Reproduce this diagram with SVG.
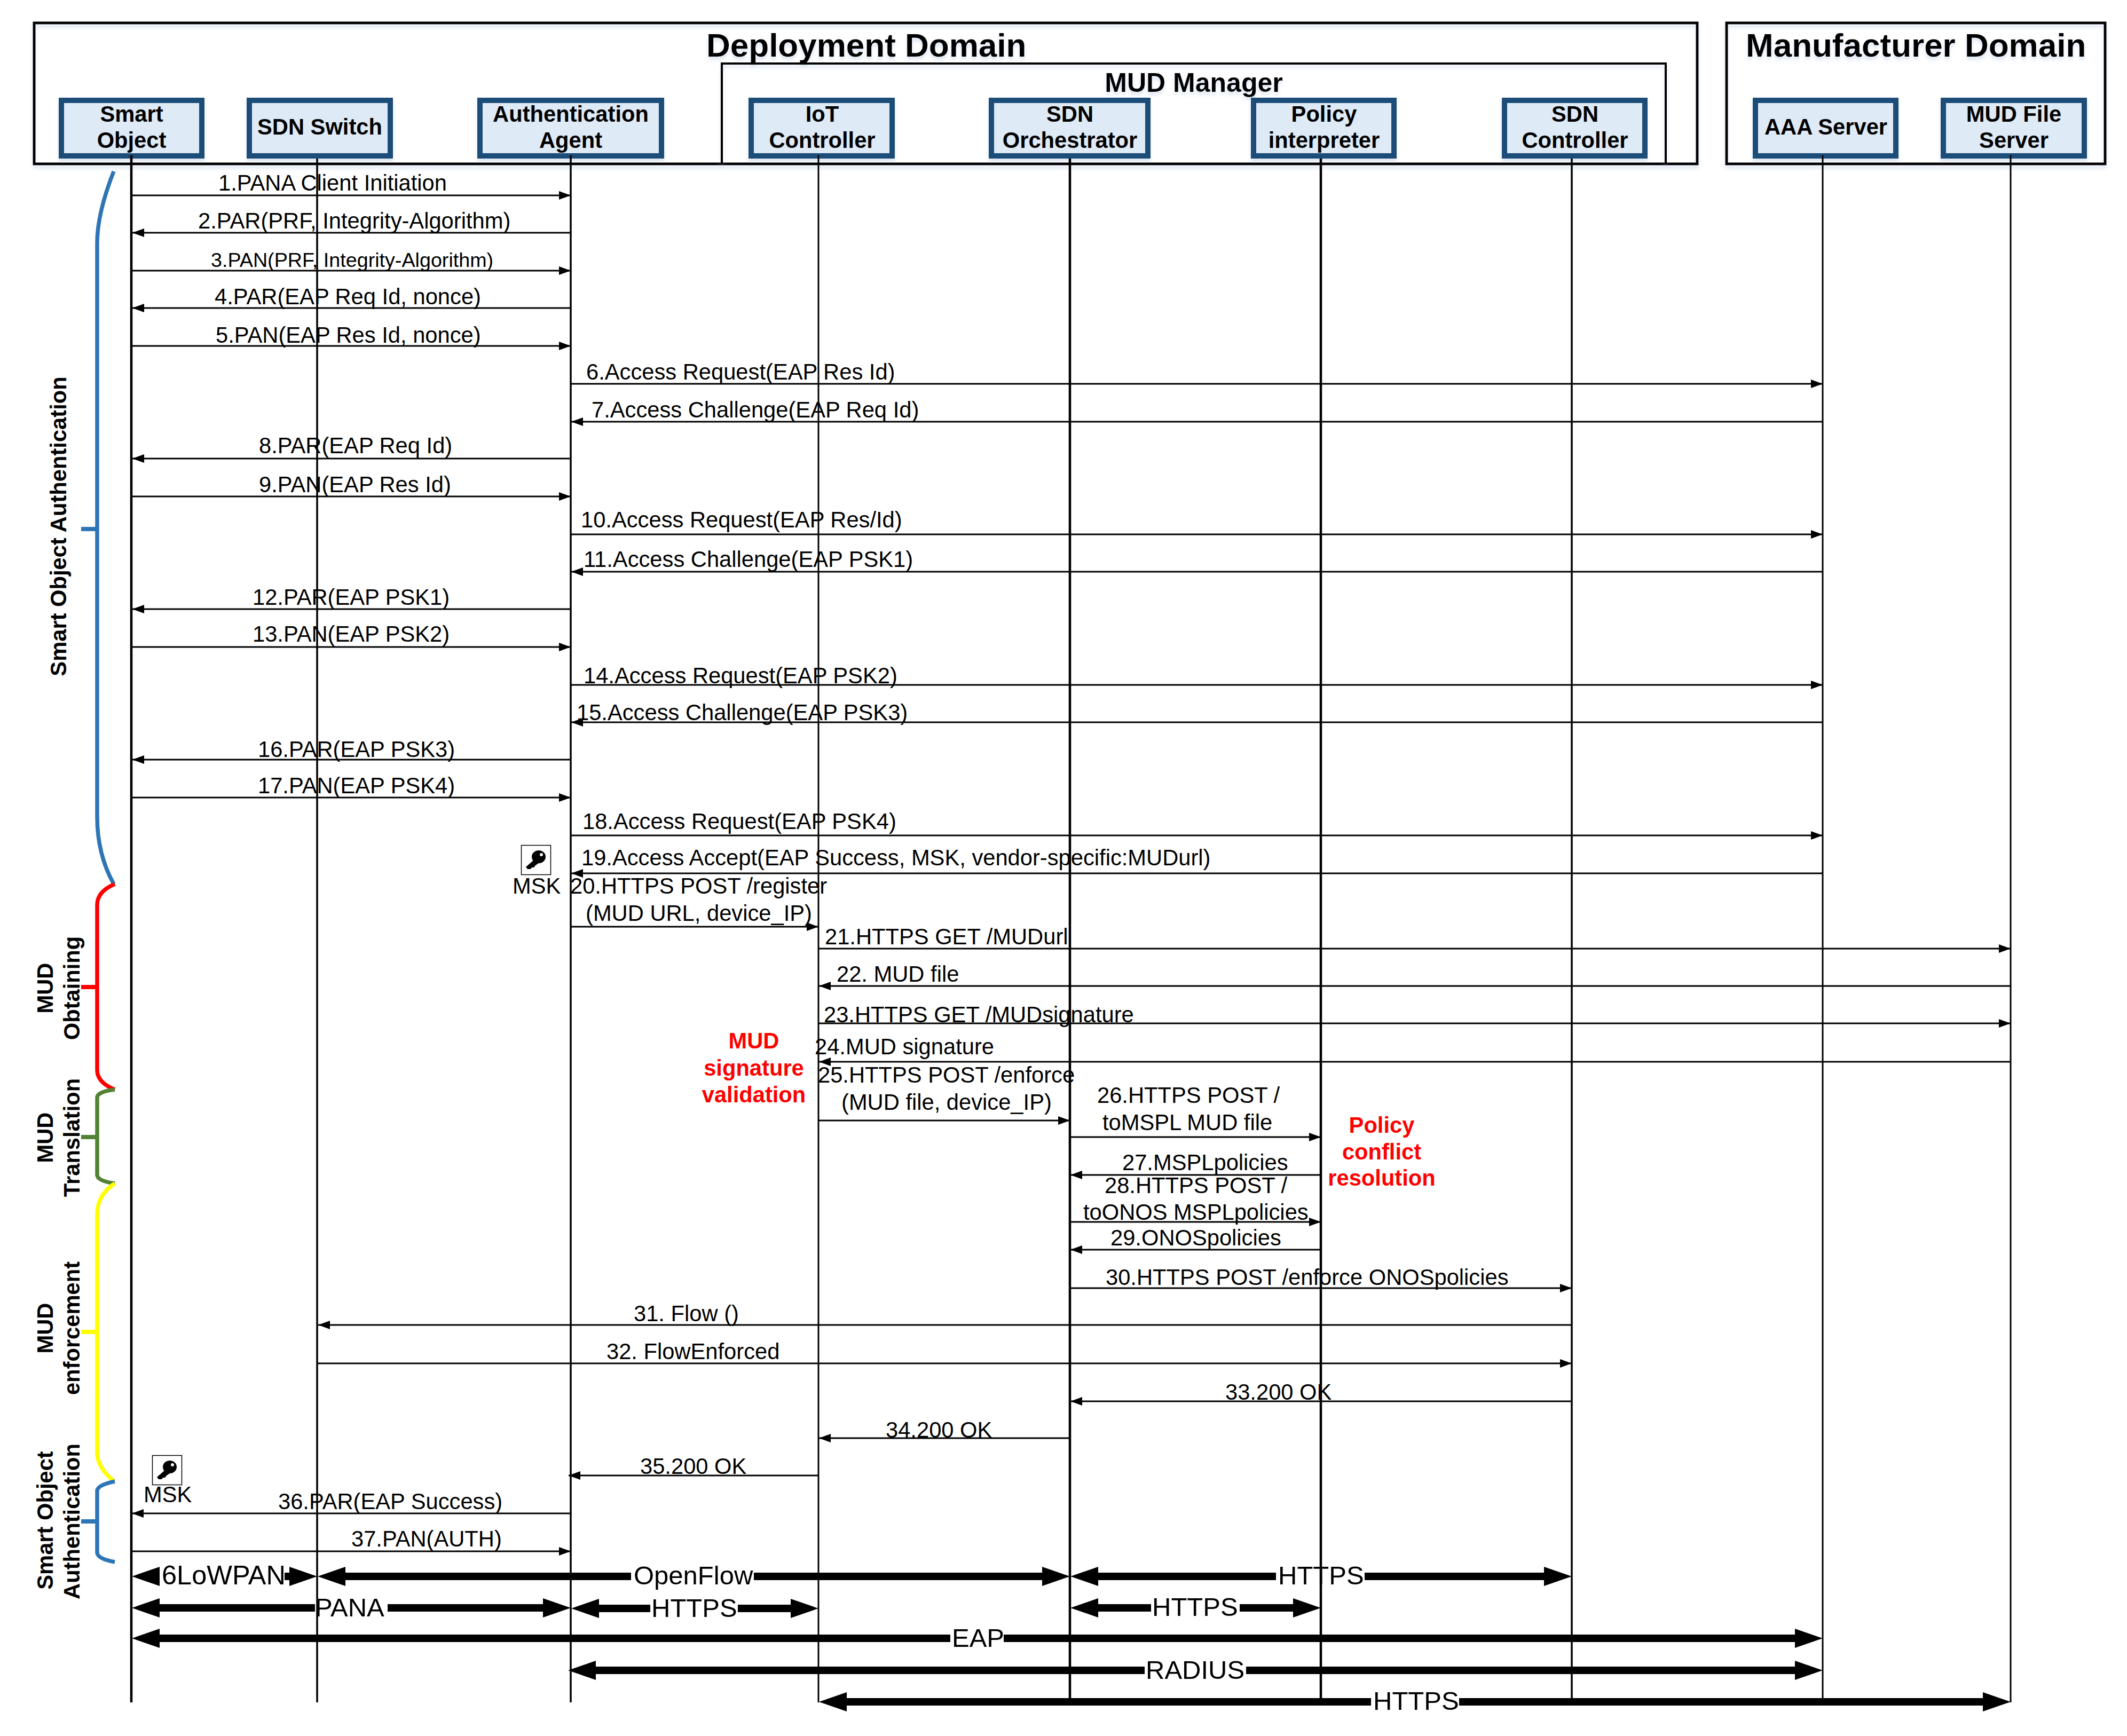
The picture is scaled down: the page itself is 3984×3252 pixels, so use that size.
<svg xmlns="http://www.w3.org/2000/svg" width="3984" height="3252" viewBox="0 0 3984 3252">
<style>
text{font-family:"Liberation Sans",Arial,sans-serif;fill:#000}
.dom{fill:none;stroke:#000;stroke-width:5;filter:url(#sh)}
.mgr{fill:none;stroke:#000;stroke-width:4;filter:url(#sh)}
.box{fill:#deeaf6;stroke:#1f4e79;stroke-width:10;filter:url(#sh)}
.nt{font-size:41.7px;font-weight:bold;text-anchor:middle}
.title{font-size:62px;font-weight:bold;filter:url(#sh)}
.mgrt{font-size:50px;font-weight:bold;text-anchor:middle;filter:url(#sh)}
.life{stroke:#000;fill:none}
.msg{stroke:#000;stroke-width:3;fill:none}
.r{marker-end:url(#a)}
.thick{stroke:#000;stroke-width:14;fill:none;marker-end:url(#b)}
.plain{stroke:#000;stroke-width:14;fill:none}
.m{font-size:41.7px}
.s{font-size:37.7px}
.t{font-size:49px}
.red{font-size:41.7px;font-weight:bold;fill:#ff0000;text-anchor:middle}
.gl{font-size:41.7px;font-weight:bold;text-anchor:middle}
.br{fill:none;stroke-width:7.5}
.tick{fill:none;stroke-width:8}
</style>
<defs>
<filter id="sh" x="-5%" y="-5%" width="110%" height="115%"><feDropShadow dx="0" dy="6" stdDeviation="3" flood-color="#9db7d9" flood-opacity="0.35"/></filter>
<marker id="a" markerUnits="userSpaceOnUse" markerWidth="24" markerHeight="18" refX="22" refY="8" orient="auto"><path d="M0,0L22,8L0,16z" fill="#000"/></marker>
<marker id="b" markerUnits="userSpaceOnUse" markerWidth="54" markerHeight="38" refX="1" refY="18" orient="auto"><path d="M0,0L52,18L0,36z" fill="#000"/></marker>
<g id="key">
<rect x="0.5" y="0.5" width="55" height="55" fill="#fff" stroke="#000" stroke-width="1.5"/>
<ellipse cx="33" cy="22" rx="13" ry="12" fill="#000"/>
<path d="M25,27L9,41L12,45L18,45L20,42L24,42L27,38L36,32Z" fill="#000"/>
<circle cx="38" cy="18" r="3" fill="#fff"/>
</g>
</defs>
<rect width="3984" height="3252" fill="#fff"/>

<g id="deployment-domain">
<rect class="dom" x="64" y="43" width="3115" height="264"/>
<text class="title" x="1323" y="106">Deployment Domain</text>
</g>
<g id="manufacturer-domain">
<rect class="dom" x="3234" y="43" width="709" height="264"/>
<text class="title" x="3270" y="106">Manufacturer Domain</text>
</g>
<g id="mud-manager">
<path class="mgr" d="M1352,307V119H3120V307"/>
<text class="mgrt" x="2236" y="172">MUD Manager</text>
</g>

<g id="smart-object"><rect class="box" x="115" y="188" width="263" height="104"/><text class="nt" x="246.5" y="228">Smart</text><text class="nt" x="246.5" y="277">Object</text></g>
<g id="sdn-switch"><rect class="box" x="467" y="188" width="264" height="104"/><text class="nt" x="599" y="252">SDN Switch</text></g>
<g id="authentication-agent"><rect class="box" x="899" y="188" width="340" height="104"/><text class="nt" x="1069" y="228">Authentication</text><text class="nt" x="1069" y="277">Agent</text></g>
<g id="iot-controller"><rect class="box" x="1407" y="188" width="264" height="104"/><text class="nt" x="1540" y="228">IoT</text><text class="nt" x="1540" y="277">Controller</text></g>
<g id="sdn-orchestrator"><rect class="box" x="1857" y="188" width="293" height="104"/><text class="nt" x="2004" y="228">SDN</text><text class="nt" x="2004" y="277">Orchestrator</text></g>
<g id="policy-interpreter"><rect class="box" x="2348" y="188" width="263" height="104"/><text class="nt" x="2480" y="228">Policy</text><text class="nt" x="2480" y="277">interpreter</text></g>
<g id="sdn-controller"><rect class="box" x="2818" y="188" width="263" height="104"/><text class="nt" x="2950" y="228">SDN</text><text class="nt" x="2950" y="277">Controller</text></g>
<g id="aaa-server"><rect class="box" x="3288" y="188" width="263" height="104"/><text class="nt" x="3420" y="252">AAA Server</text></g>
<g id="mud-file-server"><rect class="box" x="3640" y="188" width="264" height="104"/><text class="nt" x="3772" y="228">MUD File</text><text class="nt" x="3772" y="277">Server</text></g>

<g id="lifelines">
<line class="life" stroke-width="4.5" x1="246" y1="291" x2="246" y2="3189"/>
<line class="life" stroke-width="3.5" x1="594" y1="297" x2="594" y2="3189"/>
<line class="life" stroke-width="3.5" x1="1069" y1="291" x2="1069" y2="3189"/>
<line class="life" stroke-width="3" x1="1533" y1="291" x2="1533" y2="3189"/>
<line class="life" stroke-width="4.5" x1="2004" y1="297" x2="2004" y2="3189"/>
<line class="life" stroke-width="4.5" x1="2474" y1="297" x2="2474" y2="3189"/>
<line class="life" stroke-width="3.5" x1="2944" y1="297" x2="2944" y2="3189"/>
<line class="life" stroke-width="3" x1="3414" y1="291" x2="3414" y2="3189"/>
<line class="life" stroke-width="3" x1="3766" y1="291" x2="3766" y2="3189"/>
</g>

<g id="connectors">
<line class="msg r" x1="246" y1="366" x2="1069" y2="366"/>
<line class="msg r" x1="1069" y1="436" x2="248" y2="436"/>
<line class="msg r" x1="246" y1="507" x2="1069" y2="507"/>
<line class="msg r" x1="1069" y1="577" x2="248" y2="577"/>
<line class="msg r" x1="246" y1="648" x2="1069" y2="648"/>
<line class="msg r" x1="1069" y1="719" x2="3414" y2="719"/>
<line class="msg r" x1="3414" y1="790" x2="1070" y2="790"/>
<line class="msg r" x1="1069" y1="859" x2="248" y2="859"/>
<line class="msg r" x1="246" y1="930" x2="1069" y2="930"/>
<line class="msg r" x1="1069" y1="1001" x2="3414" y2="1001"/>
<line class="msg r" x1="3414" y1="1071" x2="1070" y2="1071"/>
<line class="msg r" x1="1069" y1="1141" x2="248" y2="1141"/>
<line class="msg r" x1="246" y1="1212" x2="1069" y2="1212"/>
<line class="msg r" x1="1069" y1="1283" x2="3414" y2="1283"/>
<line class="msg r" x1="3414" y1="1353" x2="1070" y2="1353"/>
<line class="msg r" x1="1069" y1="1423" x2="248" y2="1423"/>
<line class="msg r" x1="246" y1="1494" x2="1069" y2="1494"/>
<line class="msg r" x1="1069" y1="1565" x2="3414" y2="1565"/>
<line class="msg r" x1="3414" y1="1636" x2="1070" y2="1636"/>
<line class="msg r" x1="1069" y1="1736" x2="1533" y2="1736"/>
<line class="msg r" x1="1533" y1="1777" x2="3766" y2="1777"/>
<line class="msg r" x1="3766" y1="1847" x2="1534" y2="1847"/>
<line class="msg r" x1="1533" y1="1917" x2="3766" y2="1917"/>
<line class="msg r" x1="3766" y1="1989" x2="1534" y2="1989"/>
<line class="msg r" x1="1533" y1="2099" x2="2004" y2="2099"/>
<line class="msg r" x1="2004" y1="2130" x2="2474" y2="2130"/>
<line class="msg r" x1="2474" y1="2201" x2="2005" y2="2201"/>
<line class="msg r" x1="2004" y1="2289" x2="2474" y2="2289"/>
<line class="msg r" x1="2474" y1="2341" x2="2005" y2="2341"/>
<line class="msg r" x1="2004" y1="2413" x2="2944" y2="2413"/>
<line class="msg r" x1="2944" y1="2482" x2="596" y2="2482"/>
<line class="msg r" x1="594" y1="2554" x2="2944" y2="2554"/>
<line class="msg r" x1="2944" y1="2625" x2="2005" y2="2625"/>
<line class="msg r" x1="2004" y1="2694" x2="1534" y2="2694"/>
<line class="msg r" x1="1533" y1="2764" x2="1065" y2="2764"/>
<line class="msg r" x1="1069" y1="2835" x2="247" y2="2835"/>
<line class="msg r" x1="246" y1="2906" x2="1069" y2="2906"/>

<line class="thick" x1="299" y1="2953" x2="298" y2="2953"/>
<line class="plain" x1="533" y1="2953" x2="544" y2="2953"/>
<line class="thick" x1="540" y1="2953" x2="543" y2="2953"/>
<line class="thick" x1="1182" y1="2953" x2="646" y2="2953"/>
<line class="thick" x1="1412" y1="2953" x2="1953" y2="2953"/>
<line class="thick" x1="2390" y1="2953" x2="2056" y2="2953"/>
<line class="thick" x1="2556" y1="2953" x2="2893" y2="2953"/>

<line class="thick" x1="590" y1="3012" x2="298" y2="3012"/>
<line class="thick" x1="726" y1="3012" x2="1018" y2="3012"/>
<line class="thick" x1="1218" y1="3013" x2="1121" y2="3013"/>
<line class="thick" x1="1382" y1="3013" x2="1482" y2="3013"/>
<line class="thick" x1="2156" y1="3012" x2="2056" y2="3012"/>
<line class="thick" x1="2322" y1="3012" x2="2423" y2="3012"/>

<line class="thick" x1="1780" y1="3069" x2="298" y2="3069"/>
<line class="thick" x1="1880" y1="3069" x2="3363" y2="3069"/>
<line class="thick" x1="2144" y1="3129" x2="1115" y2="3129"/>
<line class="thick" x1="2334" y1="3129" x2="3363" y2="3129"/>
<line class="thick" x1="2568" y1="3188" x2="1585" y2="3188"/>
<line class="thick" x1="2733" y1="3188" x2="3715" y2="3188"/>
</g>

<g id="message-labels">
<text class="m" x="409" y="357">1.PANA Client Initiation</text>
<text class="m" x="371" y="428">2.PAR(PRF, Integrity-Algorithm)</text>
<text class="s" x="395" y="500">3.PAN(PRF, Integrity-Algorithm)</text>
<text class="m" x="402" y="570">4.PAR(EAP Req Id, nonce)</text>
<text class="m" x="404" y="642">5.PAN(EAP Res Id, nonce)</text>
<text class="m" x="1098" y="711">6.Access Request(EAP Res Id)</text>
<text class="m" x="1108" y="782">7.Access Challenge(EAP Req Id)</text>
<text class="m" x="485" y="849">8.PAR(EAP Req Id)</text>
<text class="m" x="485" y="922">9.PAN(EAP Res Id)</text>
<text class="m" x="1088" y="988">10.Access Request(EAP Res/Id)</text>
<text class="m" x="1093" y="1062">11.Access Challenge(EAP PSK1)</text>
<text class="m" x="473" y="1133">12.PAR(EAP PSK1)</text>
<text class="m" x="473" y="1202">13.PAN(EAP PSK2)</text>
<text class="m" x="1093" y="1280">14.Access Request(EAP PSK2)</text>
<text class="m" x="1080" y="1349">15.Access Challenge(EAP PSK3)</text>
<text class="m" x="483" y="1418">16.PAR(EAP PSK3)</text>
<text class="m" x="483" y="1486">17.PAN(EAP PSK4)</text>
<text class="m" x="1091" y="1553">18.Access Request(EAP PSK4)</text>
<text class="m" x="1089" y="1621">19.Access Accept(EAP Success, MSK, vendor-specific:MUDurl)</text>
<text class="m" x="1068" y="1674">20.HTTPS POST /register</text>
<text class="m" x="1097" y="1725">(MUD URL, device_IP)</text>
<text class="m" x="1545" y="1769">21.HTTPS GET /MUDurl</text>
<text class="m" x="1567" y="1839">22. MUD file</text>
<text class="m" x="1543" y="1915">23.HTTPS GET /MUDsignature</text>
<text class="m" x="1526" y="1975">24.MUD signature</text>
<text class="m" x="1532" y="2028">25.HTTPS POST /enforce</text>
<text class="m" x="1576" y="2079">(MUD file, device_IP)</text>
<text class="m" x="2055" y="2066">26.HTTPS POST /</text>
<text class="m" x="2065" y="2117">toMSPL MUD file</text>
<text class="m" x="2102" y="2192">27.MSPLpolicies</text>
<text class="m" x="2069" y="2235">28.HTTPS POST /</text>
<text class="m" x="2029" y="2285">toONOS MSPLpolicies</text>
<text class="m" x="2080" y="2333">29.ONOSpolicies</text>
<text class="m" x="2071" y="2407">30.HTTPS POST /enforce ONOSpolicies</text>
<text class="m" x="1187" y="2475">31. Flow ()</text>
<text class="m" x="1136" y="2546">32. FlowEnforced</text>
<text class="m" x="2295" y="2622">33.200 OK</text>
<text class="m" x="1659" y="2693">34.200 OK</text>
<text class="m" x="1199" y="2761">35.200 OK</text>
<text class="m" x="521" y="2827">36.PAR(EAP Success)</text>
<text class="m" x="658" y="2897">37.PAN(AUTH)</text>
<text class="t" x="303" y="2968" style="font-size:50.5px">6LoWPAN</text>
<text class="t" x="1187" y="2968">OpenFlow</text>
<text class="t" x="2394" y="2968">HTTPS</text>
<text class="t" x="590" y="3028">PANA</text>
<text class="t" x="1220" y="3029">HTTPS</text>
<text class="t" x="2158" y="3027">HTTPS</text>
<text class="t" x="1783" y="3085">EAP</text>
<text class="t" x="2146" y="3145">RADIUS</text>
<text class="t" x="2572" y="3203">HTTPS</text>
</g>

<g id="annotations">
<text class="red" x="1412" y="1964">MUD</text>
<text class="red" x="1412" y="2015">signature</text>
<text class="red" x="1412" y="2065">validation</text>
<text class="red" x="2588" y="2122">Policy</text>
<text class="red" x="2588" y="2172">conflict</text>
<text class="red" x="2588" y="2221">resolution</text>
<use href="#key" x="976" y="1583"/>
<text class="m" x="960" y="1674">MSK</text>
<use href="#key" x="285" y="2726"/>
<text class="m" x="269" y="2814">MSK</text>
</g>

<g id="phase-smart-object-authentication-1">
<path class="br" stroke="#2e75b6" d="M213,321Q182,400 182,455V1530Q182,1600 213,1656"/>
<path class="tick" stroke="#2e75b6" d="M152,991H182"/>
<text class="gl" transform="translate(124,986) rotate(-90)">Smart Object Authentication</text>
</g>
<g id="phase-mud-obtaining">
<path class="br" stroke="#ff0000" d="M215,1656Q182,1670 182,1695V2004Q182,2028 215,2041"/>
<path class="tick" stroke="#ff0000" d="M152,1849H182"/>
<text class="gl" transform="translate(99,1851) rotate(-90)">MUD</text>
<text class="gl" transform="translate(149,1851) rotate(-90)">Obtaining</text>
</g>
<g id="phase-mud-translation">
<path class="br" stroke="#548235" d="M215,2041Q182,2045 182,2056V2201Q182,2212 215,2217"/>
<path class="tick" stroke="#548235" d="M152,2130H182"/>
<text class="gl" transform="translate(99,2131) rotate(-90)">MUD</text>
<text class="gl" transform="translate(149,2131) rotate(-90)">Translation</text>
</g>
<g id="phase-mud-enforcement">
<path class="br" stroke="#ffff00" d="M215,2217Q182,2238 182,2275V2720Q182,2750 214,2775"/>
<path class="tick" stroke="#ffff00" d="M152,2495H182"/>
<text class="gl" transform="translate(99,2488) rotate(-90)">MUD</text>
<text class="gl" transform="translate(149,2488) rotate(-90)">enforcement</text>
</g>
<g id="phase-smart-object-authentication-2">
<path class="br" stroke="#2e75b6" d="M215,2775Q182,2782 182,2793V2908Q182,2920 215,2926"/>
<path class="tick" stroke="#2e75b6" d="M152,2850H182"/>
<text class="gl" transform="translate(99,2848) rotate(-90)">Smart Object</text>
<text class="gl" transform="translate(149,2850) rotate(-90)">Authentication</text>
</g>
</svg>
